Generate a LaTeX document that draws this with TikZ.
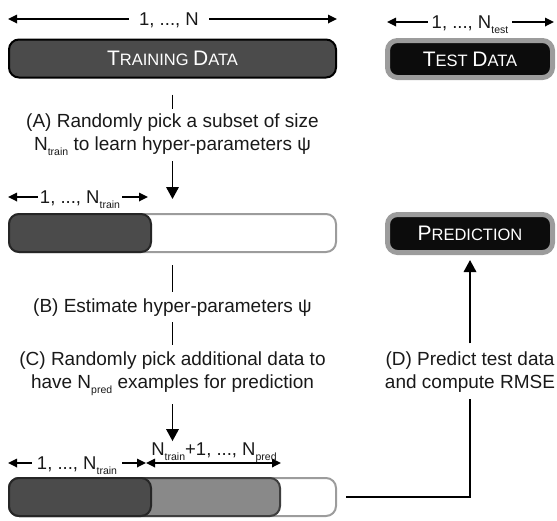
\documentclass[tikz,border=0pt]{standalone}
\usepackage{fontspec}
\setmainfont{Liberation Sans}
\usetikzlibrary{arrows.meta}

\definecolor{darkfill}{HTML}{4B4B4B}
\definecolor{midfill}{HTML}{898989}
\definecolor{midedge}{HTML}{3E3E3E}
\definecolor{paleedge}{HTML}{9C9C9C}
\definecolor{inkblack}{HTML}{0C0C0C}

% faked small capitals: large initial, smaller remainder
\newcommand{\capA}[1]{{\fontsize{21}{21}\selectfont #1}}
\newcommand{\capB}[1]{{\fontsize{16.5}{21}\selectfont #1}}
% lowered small index (N_train, N_pred, N_test)
\newcommand{\lowsub}[1]{\raisebox{-5pt}{\fontsize{10.5}{10.5}\selectfont #1}}

\tikzset{
  txt/.style={font=\fontsize{19}{23}\selectfont, text=black!90, align=center, inner sep=0pt},
  lbl/.style={font=\fontsize{18.5}{23}\selectfont, text=black!90, inner ysep=0pt, inner xsep=4pt},
  harrow/.style={line width=1.7pt, -{Triangle[length=9pt,width=8.5pt]}},
  hboth/.style={line width=1.7pt, {Triangle[length=9pt,width=8.5pt]}-{Triangle[length=9pt,width=8.5pt]}},
  vline/.style={line width=1.8pt},
  varrow/.style={line width=1.8pt, -{Triangle[length=12pt,width=12.5pt]}},
  darkbox/.style={rounded corners=10pt, draw=black, line width=2pt, fill=darkfill, text=white, inner sep=0pt},
  blackbox/.style={rounded corners=10pt, draw=paleedge, line width=5pt, fill=inkblack, text=white, inner sep=0pt},
  barwhite/.style={rounded corners=10pt, draw=paleedge, line width=2pt, fill=white, inner sep=0pt, minimum height=38pt},
  barmid/.style={rounded corners=10pt, draw=midedge, line width=2pt, fill=midfill, inner sep=0pt, minimum height=38pt},
  bardark/.style={rounded corners=10pt, draw=black!85, line width=2pt, fill=darkfill, inner sep=0pt, minimum height=38pt},
}

\begin{document}
\begin{tikzpicture}[x=1pt,y=-1pt]
\useasboundingbox (0,0) rectangle (557,520);

% ---- top row: data sets ----
\node[darkbox, minimum width=327pt, minimum height=38pt] (train) at (172.5,58.5)
  {\capA{T}\capB{RAINING }\capA{D}\capB{ATA}};
\node[blackbox, minimum width=165pt, minimum height=37pt] (test) at (470,59)
  {\capA{T}\capB{EST }\capA{D}\capB{ATA}};

\coordinate (tl) at (8,19);
\coordinate (tr) at (337,19);
\node[lbl, inner xsep=10pt, anchor=base] (nall) at (169,25.5) {1, ..., N};
\draw[harrow] (nall.west |- tl) -- (tl);
\draw[harrow] (nall.east |- tr) -- (tr);

\coordinate (sl) at (387,22);
\coordinate (sr) at (554,22);
\node[lbl, anchor=base] (ntest) at (470,28.5) {1, ..., N\lowsub{test}};
\draw[harrow] (ntest.west |- sl) -- (sl);
\draw[harrow] (ntest.east |- sr) -- (sr);

% ---- step A ----
\node[txt] (ta) at (172.5,135)
  {(A) Randomly pick a subset of size\\N\lowsub{train} to learn hyper-parameters ψ};
\draw[vline, shorten <=16pt, shorten >=5pt] (train.south) -- (ta.north);

% ---- second bar: training subset ----
\node[barwhite, minimum width=327pt] (bar2) at (172.5,233) {};
\node[bardark, minimum width=142pt] (bar2a) at (80,233) {};
\draw[varrow, shorten <=5pt, shorten >=14pt] (ta.south) -- (bar2.north);

\coordinate (al) at (8,197);
\coordinate (ar) at (148,197);
\node[lbl, inner xsep=2pt, anchor=base] (ntr) at (80,203.5) {1, ..., N\lowsub{train}};
\draw[harrow] (ntr.west |- al) -- (al);
\draw[harrow] (ntr.east |- ar) -- (ar);

\node[blackbox, minimum width=165pt, minimum height=38pt] (pred) at (470,233.5)
  {\capA{P}\capB{REDICTION}};

% ---- steps B and C ----
\node[txt] (tb) at (172.5,308) {(B) Estimate hyper-parameters ψ};
\node[txt] (tc) at (172.5,374)
  {(C) Randomly pick additional data to\\have N\lowsub{pred} examples for prediction};
\draw[vline, shorten <=12pt, shorten >=7pt] (bar2.south) -- (tb.north);
\draw[vline, shorten <=5pt, shorten >=7pt] (tb.south) -- (tc.north);

% ---- bottom bar: training + prediction data ----
\node[barwhite, minimum width=327pt] (bar3) at (172.5,497) {};
\node[barmid, minimum width=271pt] (bar3b) at (144.5,497) {};
\node[bardark, minimum width=142pt] (bar3a) at (80,497) {};

\coordinate (bl) at (8,463);
\coordinate (bm) at (146,463);
\coordinate (br) at (281,463);
\node[lbl, inner xsep=5pt, anchor=base] (nb1) at (77,469.5) {1, ..., N\lowsub{train}};
\node[lbl, inner sep=1pt, anchor=base] (nb2) at (214,455) {N\lowsub{train}+1, ..., N\lowsub{pred}};
\draw[harrow] (nb1.west |- bl) -- (bl);
\draw[harrow] (nb1.east |- bm) -- (bm);
\draw[hboth] (bm) -- (br);

\draw[varrow, shorten <=8pt] (tc.south) -- (tc.south |- nb2.north);

% ---- step D ----
\node[txt] (td) at (470,372) {(D) Predict test data\\and compute RMSE};
\draw[vline, shorten <=9pt, shorten >=6pt] (bar3.east) -| (td.south);
\draw[varrow, shorten <=8pt, shorten >=5pt] (td.north) -- (pred.south);

\end{tikzpicture}
\end{document}
